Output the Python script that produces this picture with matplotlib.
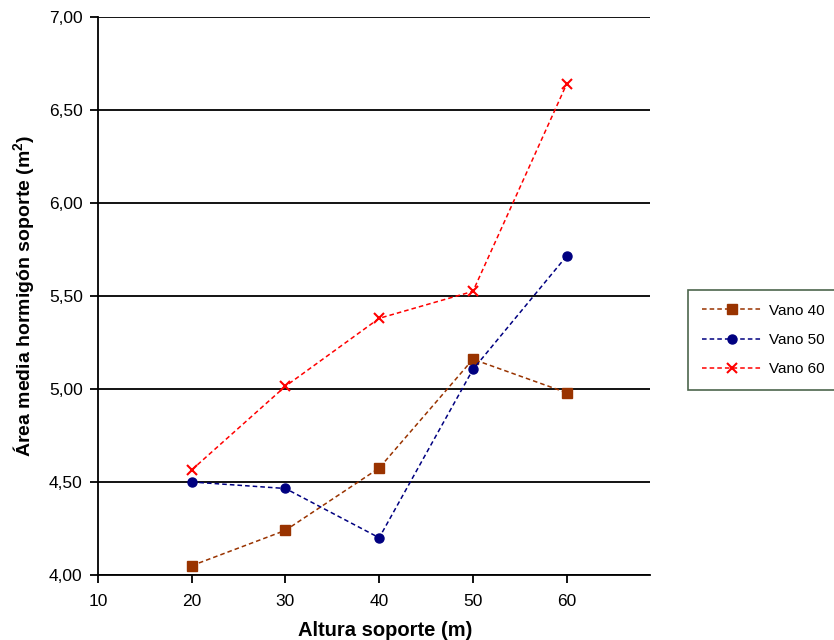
import matplotlib
matplotlib.use("Agg")
import matplotlib.pyplot as plt
from matplotlib.ticker import FuncFormatter

plt.rcParams['font.family'] = ['Liberation Sans', 'DejaVu Sans']
plt.rcParams['mathtext.fontset'] = 'custom'
plt.rcParams['mathtext.rm'] = 'Liberation Sans'
plt.rcParams['mathtext.bf'] = 'Liberation Sans:bold'

# data
altura = [20, 30, 40, 50, 60]
vano_40 = [4.05, 4.24, 4.575, 5.16, 4.98]
vano_50 = [4.50, 4.465, 4.20, 5.105, 5.715]
vano_60 = [4.565, 5.015, 5.38, 5.525, 6.64]
y_ticks = [4.0, 4.5, 5.0, 5.5, 6.0, 6.5, 7.0]
x_ticks = [10, 20, 30, 40, 50, 60]

fig = plt.figure(figsize=(8.34, 6.4), dpi=100)
ax = fig.add_axes([0.1175, 0.1016, 0.662, 0.8718])

ax.plot(altura, vano_40, ls=(0, (3, 2)), lw=1.1, color='#993300',
        marker='s', ms=6.5, label='Vano 40')
ax.plot(altura, vano_50, ls=(0, (3, 2)), lw=1.1, color='#000080',
        marker='o', ms=6.5, label='Vano 50')
ax.plot(altura, vano_60, ls=(0, (3, 2)), lw=1.1, color='#FF0000',
        marker='x', ms=6.5, mew=1.5, label='Vano 60')

ax.set_xlim(10, 68.9)
ax.set_ylim(4.0, 7.0)
ax.set_xticks(x_ticks)
ax.set_yticks(y_ticks)
ax.yaxis.set_major_formatter(FuncFormatter(lambda v, p: ('%.2f' % v).replace('.', ',')))

ax.grid(axis='y', color='black', lw=1.3)
ax.set_axisbelow(True)
for s in ['top', 'right']:
    ax.spines[s].set_visible(False)
ax.spines['left'].set_lw(1.3)
ax.spines['bottom'].set_lw(1.3)
ax.tick_params(direction='out', length=6, width=1.3, labelsize=12.5)
ax.tick_params(axis='x', pad=8)
ax.tick_params(axis='y', pad=5)

ax.set_xlabel('Altura soporte (m)', fontsize=14.5, fontweight='bold')
ax.xaxis.set_label_coords(0.52, -0.083)
ax.set_ylabel(r'Área media hormigón soporte (m$\mathbf{^2}$)', fontsize=14,
              fontweight='bold', labelpad=9)

leg = fig.legend(loc='upper left', bbox_to_anchor=(688 / 834, 1 - 290 / 640),
                 borderaxespad=0, fontsize=11, frameon=True, fancybox=False,
                 handlelength=3.9, handletextpad=0.5, borderpad=0.9,
                 labelspacing=1.0, edgecolor='#1f3f1f')
leg.get_frame().set_linewidth(1.2)

fig.savefig('out.png', dpi=100)
